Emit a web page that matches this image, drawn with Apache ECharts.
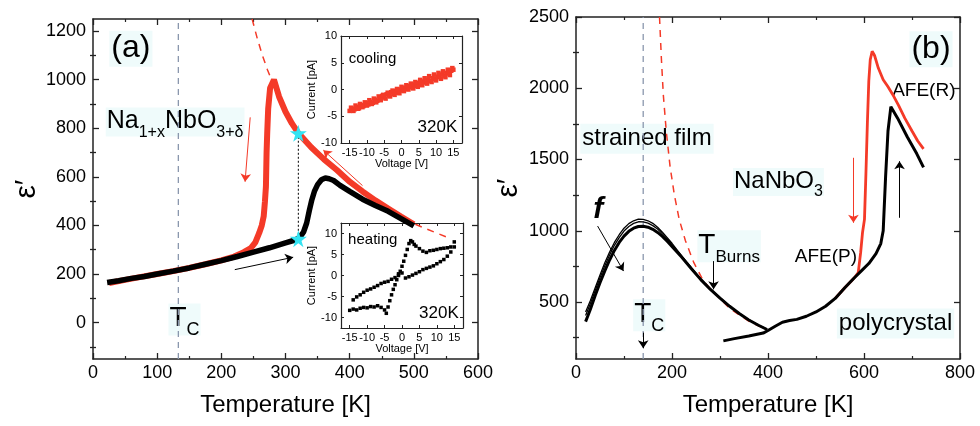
<!DOCTYPE html>
<html><head><meta charset="utf-8">
<script src="https://cdn.jsdelivr.net/npm/echarts@6.0.0/dist/echarts.min.js"></script>
<style>html,body{margin:0;padding:0;background:#fff}#chart{width:980px;height:426px}</style>
</head><body><div id="chart"></div>
<script>
// ===== Panel (a): Na1+xNbO3+δ film =====
const aCoolT = [25,50,75,100,125,150,175,200,220,235,246,253,259,263,266,268,269.5,270.5,271.5,273,276,282,290,300,310,320,340,360,380,400,420,440,460,480,500];
const aCoolE = [163,176,188,200,212,225,240,256,272,290,307,330,369,400,437,500,560,700,780,880,966,1000,930,868,820,780,722,672,628,580,540,503,470,437,405];
const aHeatT = [22,40,60,80,100,125,150,175,200,225,250,275,300,315,322,328,333,337,341,345,350,356,362,368,375,385,400,420,440,460,480,500];
const aHeatE = [165,172,182,190,200,212,225,240,255,272,290,308,328,340,350,372,410,460,505,540,568,588,595,592,585,565,540,508,482,458,428,398];
const aFitT = [248,256,264,272,282,295,310,330,360,400,440,480,520,555];
const aFitE = [1250,1170,1100,1040,975,900,830,755,665,570,495,430,385,348];
const aTcLine = [[133,-150],[133,1250]];
const aStars = [[320,780],[320,345]];
const aDropLine = [[320,345],[320,780]];
const aArrowsRed = [[[245,845],[237,580]],[[420,564],[359,710]]];
const aArrowsBlack = [[[221,218],[312,269]]];
const aYLabels = [0,200,400,600,800,1000,1200];
const aYMinor = [-100,100,300,500,700,900,1100];

// inset: cooling I-V at 320K
const coolV = [-15,-14.3,-13.6,-13,-12.3,-11.6,-11,-10.3,-9.6,-9,-8.3,-7.6,-7,-6.3,-5.6,-5,-4.3,-3.6,-3,-2.3,-1.6,-1,-0.3,0.4,1,1.7,2.4,3,3.7,4.4,5,5.7,6.4,7,7.7,8.4,9,9.7,10.4,11,11.7,12.4,13,13.7,14.4,15];
const coolI = [-4.0,-3.6,-3.7,-3.3,-3.5,-2.9,-3.1,-2.6,-2.8,-2.3,-2.5,-1.9,-2.1,-1.6,-1.2,-1.5,-0.9,-1.1,-0.5,-0.8,-0.3,-0.6,0.0,-0.2,0.3,0.1,0.6,0.4,0.9,0.7,1.2,1.0,1.5,1.3,1.8,1.6,2.1,2.0,2.4,2.3,2.8,2.6,3.1,3.0,3.5,3.7];
const coolV2 = [-14.6,-13.9,-13.3,-12.6,-12,-11.3,-10.6,-10,-9.3,-8.6,-8,-7.3,-6.6,-6,-5.3,-4.6,-4,-3.3,-2.6,-2,-1.3,-0.6,0,0.7,1.4,2,2.7,3.4,4,4.7,5.4,6,6.7,7.4,8,8.7,9.4,10,10.7,11.4,12,12.7,13.4,14,14.7];
const coolI2 = [-3.4,-4.0,-3.0,-3.6,-2.7,-3.3,-2.4,-3.0,-2.0,-2.7,-1.7,-2.4,-1.3,-2.0,-1.0,-1.7,-0.6,-1.3,-0.2,-1.0,0.1,-0.7,0.5,-0.3,0.8,0.0,1.1,0.2,1.4,0.5,1.8,0.8,2.1,1.1,2.5,1.4,2.8,1.7,3.1,2.0,3.4,2.3,3.7,2.7,4.0];

// inset: heating I-V at 320K
const heatAV = [-14,-13,-12,-11,-10,-9,-8,-7,-6,-5,-4,-3,-2,-1,0,1,2,3,4,5,6,7,8,9,10,11,12,13,14,15];
const heatAI = [-5.8,-5.1,-4.6,-4.0,-3.5,-3.2,-2.8,-2.4,-1.9,-1.6,-1.4,-0.9,-0.5,0.4,0.6,-0.6,-0.3,0.1,0.5,0.9,1.4,1.7,2.0,2.3,2.8,3.3,3.8,4.6,5.6,6.8];
const heatBV = [-15,-14,-13,-12,-11,-10,-9,-8,-7,-6,-5,-4.5,-4,-3.5,-3,-2.5,-2,-1.5,-1,-0.5,0,0.5,1,1.5,2,2.5,3,3.5,4,5,6,7,8,9,10,11,12,13,14,15];
const heatBI = [-8.3,-8.0,-8.2,-7.8,-7.6,-7.7,-7.4,-7.5,-7.2,-7.6,-8.2,-9.0,-7.5,-6.0,-4.6,-3.3,-2.2,-1.0,0.0,1.0,2.2,3.4,4.8,6.2,7.6,8.3,8.0,7.4,7.0,6.4,5.8,5.5,5.9,6.0,6.2,6.4,6.5,6.6,6.8,8.0];
const insetXLabels = [-15,-10,-5,0,5,10,15];
const insetYLabels = [-10,-5,0,5,10];

// ===== Panel (b): NaNbO3 =====
const bFilmT  = [20,25,30,40,50,60,70,80,90,100,110,120,130,140,150,160,170,180,190,200,220,240,260,280,300,320,340,360,380,398];
const bFilm1  = [430,470,510,600,690,775,850,918,972,1018,1050,1070,1082,1080,1070,1052,1025,990,952,912,826,742,662,592,530,472,421,376,338,308];
const bFilm2  = [405,448,490,580,670,755,830,898,952,998,1030,1052,1063,1062,1053,1036,1012,978,942,903,820,738,660,591,529,471,420,375,338,308];
const bFilm3  = [362,405,450,545,635,718,795,862,918,962,996,1018,1030,1032,1025,1010,988,960,926,890,815,735,657,588,527,470,419,374,337,307];
const bFitT = [174,178,182,188,196,205,215,228,245,265,286,320,360,398];
const bFitE = [2500,2200,1950,1700,1450,1250,1080,930,780,650,570,455,365,305];
const bPolyT = [307,330,360,390,400,415,430,445,460,480,500,520,540,560,580,595,610,625,635,640,645,650,656,670,690,710,724];
const bPolyE = [227,243,262,282,300,330,358,370,378,400,430,470,525,600,670,720,770,840,910,1000,1380,1700,1870,1790,1660,1540,1445];
const bPolyRedT = [540,560,580,588,593,597,601,604,607,610,613,617,622,630,640,650,660,672,685,700,712,724];
const bPolyRedE = [525,600,670,706,846,990,1080,1400,1750,2050,2200,2260,2230,2140,2060,2010,1955,1880,1790,1700,1630,1575];
const bTcLine = [[140,100],[140,2500]];
const bArrowsRed = [[[578,1512],[578,1056]]];
const bArrowsBlack = [[[674,1091],[674,1488]],[[286.6,787],[286.6,589]],[[140,285],[140,175]],[[45,1033],[99,717]]];
const bYLabels = [500,1000,1500,2000,2500];
const bYMinor = [250,750,1250,1750,2250];

// ===== styling helpers =====
const FONT = "'Liberation Sans', Arial, Helvetica, sans-serif";
const AX = '#222';
const TXT = '#000';
const RED = '#f43a28';
const BG = '#effbfb';
const zip = (xs, ys) => xs.map((x, i) => [x, ys[i]]);
const plain = v => String(v);

function xPair(g, min, max, step, gap) {
  const base = {
    type: 'value', gridIndex: g, min: min, max: max, interval: step,
    axisLine: {show: true, onZero: false, lineStyle: {color: AX, width: 1.5}},
    axisTick: {show: true, inside: true, length: 6, lineStyle: {color: AX, width: 1.3}},
    minorTick: {show: true, splitNumber: 2, length: 3, lineStyle: {color: AX, width: 1.2}},
    splitLine: {show: false}, minorSplitLine: {show: false}
  };
  return [
    Object.assign({}, base, {position: 'bottom', name: 'Temperature [K]', nameLocation: 'middle', nameGap: gap,
      nameTextStyle: {fontSize: 24, color: TXT, fontFamily: FONT},
      axisLabel: {fontSize: 18, color: TXT, margin: 5, fontFamily: FONT, formatter: plain}}),
    Object.assign({}, base, {position: 'top', axisLabel: {show: false}})
  ];
}
function yQuad(g, min, max, major, minor, gap) {
  const line = {show: true, onZero: false, lineStyle: {color: AX, width: 1.5}};
  const tk = (vals, len) => ({show: true, inside: true, length: len, customValues: vals, lineStyle: {color: AX, width: 1.3}});
  const common = {type: 'value', gridIndex: g, min: min, max: max, splitLine: {show: false}};
  return [
    Object.assign({}, common, {position: 'left', axisLine: line, axisTick: tk(major, 6),
      axisLabel: {customValues: major, fontSize: 18, color: TXT, margin: 7, fontFamily: FONT, formatter: plain},
      name: 'ε′', nameLocation: 'middle', nameGap: gap, nameTextStyle: {fontSize: 30, color: TXT, fontFamily: FONT}}),
    Object.assign({}, common, {position: 'left', axisLine: {show: false}, axisTick: tk(minor, 3), axisLabel: {show: false}}),
    Object.assign({}, common, {position: 'right', axisLine: line, axisTick: tk(major, 6), axisLabel: {show: false}}),
    Object.assign({}, common, {position: 'right', axisLine: {show: false}, axisTick: tk(minor, 3), axisLabel: {show: false}})
  ];
}
function insetX(g) {
  const base = {type: 'value', gridIndex: g, min: -17.5, max: 17.5, splitLine: {show: false},
    axisLine: {show: true, onZero: false, lineStyle: {color: AX, width: 1.2}},
    axisTick: {show: true, inside: true, length: 3, customValues: insetXLabels, lineStyle: {color: AX}}};
  return [
    Object.assign({}, base, {position: 'bottom', axisLabel: {customValues: insetXLabels, fontSize: 11, color: TXT, margin: 4, fontFamily: FONT, formatter: plain},
      name: 'Voltage [V]', nameLocation: 'middle', nameGap: 13, nameTextStyle: {fontSize: 11, color: TXT, fontFamily: FONT}}),
    Object.assign({}, base, {position: 'top', axisLabel: {show: false}})
  ];
}
function insetY(g, min, max) {
  const base = {type: 'value', gridIndex: g, min: min, max: max, splitLine: {show: false},
    axisLine: {show: true, onZero: false, lineStyle: {color: AX, width: 1.2}},
    axisTick: {show: true, inside: true, length: 3, customValues: insetYLabels, lineStyle: {color: AX}}};
  return [
    Object.assign({}, base, {position: 'left', axisLabel: {customValues: insetYLabels, fontSize: 11, color: TXT, margin: 4, fontFamily: FONT, formatter: plain},
      name: 'Current [pA]', nameLocation: 'middle', nameGap: 18, nameTextStyle: {fontSize: 11, color: TXT, fontFamily: FONT}}),
    Object.assign({}, base, {position: 'right', axisLabel: {show: false}})
  ];
}
function subRich(M, S) {
  const mainBase = (M + 2) / 2 + 0.35 * M;
  const subBase = mainBase + 0.28 * M;
  const top = subBase - 0.35 * S - S / 2;
  return {
    m: {fontSize: M, lineHeight: M + 2, verticalAlign: 'top', fontFamily: FONT, color: TXT},
    s: {fontSize: S, lineHeight: S, verticalAlign: 'top', padding: [Math.round(top), 0, 0, 0], fontFamily: FONT, color: TXT}
  };
}
function annoSeries(xi, yi, items) {
  return {
    type: 'scatter', xAxisIndex: xi, yAxisIndex: yi, symbolSize: 0, silent: true, z: 1,
    itemStyle: {opacity: 1},
    data: items.map(it => ({value: it.at, label: Object.assign({show: true, position: 'inside', color: TXT, fontFamily: FONT}, it.label)}))
  };
}
function lineSeries(xi, yi, data, color, width, type, z) {
  return {type: 'line', xAxisIndex: xi, yAxisIndex: yi, data: data, showSymbol: false, symbol: 'none', smooth: false,
    lineStyle: {color: color, width: width, type: type || 'solid'}, z: z || 2, silent: true};
}
function arrowSeries(xi, yi, list, color, width) {
  return {type: 'lines', coordinateSystem: 'cartesian2d', xAxisIndex: xi, yAxisIndex: yi, z: 6, silent: true,
    symbol: ['none', 'arrow'], symbolSize: 8,
    lineStyle: {color: color, width: width, opacity: 1, curveness: 0},
    data: list.map(c => ({coords: c}))};
}
function dots(xi, yi, data, color, size) {
  return {type: 'scatter', xAxisIndex: xi, yAxisIndex: yi, data: data, symbol: 'rect', symbolSize: size,
    itemStyle: {color: color, opacity: 1}, silent: true};
}
const STAR = 'path://M50,0 L61,35 L98,35 L68,57 L79,91 L50,70 L21,91 L32,57 L2,35 L39,35 Z';

const chart = echarts.init(document.getElementById('chart'), null, {renderer: 'canvas'});
const option = {
  animation: false,
  backgroundColor: '#fff',
  grid: [
    {left: 93, top: 19, width: 385, height: 340},
    {left: 576, top: 17, width: 384, height: 342},
    {left: 341, top: 36, width: 121, height: 107},
    {left: 341, top: 223, width: 122, height: 105}
  ],
  xAxis: [].concat(xPair(0, 0, 600, 100, 34), xPair(1, 0, 800, 200, 34), insetX(2), insetX(3)),
  yAxis: [].concat(yQuad(0, -150, 1250, aYLabels, aYMinor, 48), yQuad(1, 100, 2500, bYLabels, bYMinor, 52),
                   insetY(2, -10, 10), insetY(3, -12.5, 12.5)),
  series: [
    // ---- panel (a) ----
    lineSeries(0, 0, aTcLine, '#8a97ad', 1.3, [6, 5], 2),
    lineSeries(0, 0, zip(aFitT, aFitE), RED, 1.5, [7, 6], 2),
    lineSeries(0, 0, zip(aCoolT, aCoolE), RED, 6, 'solid', 3),
    lineSeries(0, 0, zip(aHeatT, aHeatE), '#000', 5.5, 'solid', 4),
    lineSeries(0, 0, aDropLine, '#000', 1, [2, 2], 5),
    {type: 'scatter', xAxisIndex: 0, yAxisIndex: 0, data: aStars, symbol: STAR, symbolSize: 17,
      itemStyle: {color: '#34e3f2', opacity: 1}, z: 7, silent: true},
    arrowSeries(0, 0, aArrowsRed, RED, 1),
    arrowSeries(0, 0, aArrowsBlack, '#000', 1),
    annoSeries(0, 0, [
      {at: [59, 1128], label: {formatter: '(a)', fontSize: 32, backgroundColor: BG, padding: [2, 2]}},
      {at: [128, 826], label: {formatter: '{m|Na}{s|1+x}{m|NbO}{s|3+δ}', rich: subRich(25, 16), backgroundColor: BG, padding: [1, 1]}},
      {at: [142.6, 13], label: {formatter: '{m|T}{s|C}', rich: subRich(28, 18), backgroundColor: BG, padding: [1, 1]}}
    ]),
    // ---- inset cooling ----
    dots(4, 8, zip(coolV, coolI), RED, 4.5),
    dots(4, 8, zip(coolV2, coolI2), RED, 4.5),
    annoSeries(4, 8, [
      {at: [-8.4, 5.8], label: {formatter: 'cooling', fontSize: 15}},
      {at: [10.4, -7], label: {formatter: '320K', fontSize: 17}}
    ]),
    // ---- inset heating ----
    dots(6, 10, zip(heatAV, heatAI), '#000', 3.5),
    dots(6, 10, zip(heatBV, heatBI), '#000', 3.5),
    annoSeries(6, 10, [
      {at: [-8.4, 8.4], label: {formatter: 'heating', fontSize: 15}},
      {at: [10.6, -8.9], label: {formatter: '320K', fontSize: 17}}
    ]),
    // ---- panel (b) ----
    lineSeries(2, 4, bTcLine, '#8a97ad', 1.3, [6, 5], 2),
    lineSeries(2, 4, zip(bFitT, bFitE), RED, 1.5, [7, 6], 2),
    lineSeries(2, 4, zip(bFilmT, bFilm1), '#000', 1.3, 'solid', 3),
    lineSeries(2, 4, zip(bFilmT, bFilm2), '#000', 1.3, 'solid', 3),
    lineSeries(2, 4, zip(bFilmT, bFilm3), '#000', 3, 'solid', 3),
    lineSeries(2, 4, zip(bPolyRedT, bPolyRedE), RED, 2.8, 'solid', 3),
    lineSeries(2, 4, zip(bPolyT, bPolyE), '#000', 3, 'solid', 4),
    arrowSeries(2, 4, bArrowsRed, RED, 1),
    arrowSeries(2, 4, bArrowsBlack, '#000', 1),
    annoSeries(2, 4, [
      {at: [739.6, 2274], label: {formatter: '(b)', fontSize: 32, backgroundColor: BG, padding: [2, 2]}},
      {at: [147.8, 1646], label: {formatter: 'strained film', fontSize: 24, backgroundColor: BG, padding: [3, 2]}},
      {at: [421.7, 1342], label: {formatter: '{m|NaNbO}{s|3}', rich: subRich(24, 16), backgroundColor: BG, padding: [1, 1]}},
      {at: [724.6, 1985], label: {formatter: 'AFE(R)', fontSize: 19}},
      {at: [520.6, 817], label: {formatter: 'AFE(P)', fontSize: 19}},
      {at: [665.7, 349], label: {formatter: 'polycrystal', fontSize: 24, backgroundColor: BG, padding: [3, 2]}},
      {at: [319, 892], label: {formatter: '{m|T}{s|Burns}', rich: subRich(28, 17), backgroundColor: BG, padding: [1, 1]}},
      {at: [152.6, 407], label: {formatter: '{m|T}{s|C}', rich: subRich(28, 18), backgroundColor: BG, padding: [1, 1]}},
      {at: [46.4, 1150], label: {formatter: 'f', fontSize: 30, fontWeight: 'bold', fontStyle: 'italic'}}
    ])
  ]
};
chart.setOption(option);
</script>
</body></html>
